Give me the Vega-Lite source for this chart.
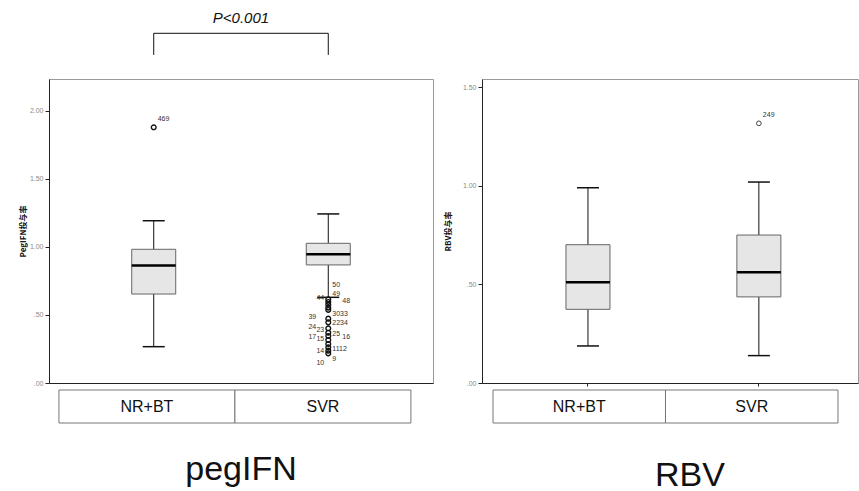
{
  "$schema": "https://vega.github.io/schema/vega-lite/v6.json",
  "padding": {"left": 18, "top": 10, "right": 0, "bottom": 0},
  "background": "white",
  "config": {
    "font": "Liberation Sans",
    "view": {"stroke": "#9a9a9a", "strokeWidth": 1},
    "axis": {"grid": false, "domainColor": "#222", "tickColor": "#222"}
  },
  "datasets": {
    "groups": [{"group": "NR+BT"}, {"group": "SVR"}],
    "peg_box": [
      {"group": "NR+BT", "lower": 0.267, "q1": 0.654, "median": 0.863, "q3": 0.983, "upper": 1.193},
      {"group": "SVR", "lower": 0.630, "q1": 0.868, "median": 0.946, "q3": 1.027, "upper": 1.243}
    ],
    "peg_out": [
      {"group": "NR+BT", "value": 1.88},
      {"group": "SVR", "value": 0.615},
      {"group": "SVR", "value": 0.596},
      {"group": "SVR", "value": 0.576},
      {"group": "SVR", "value": 0.554},
      {"group": "SVR", "value": 0.537},
      {"group": "SVR", "value": 0.473},
      {"group": "SVR", "value": 0.446},
      {"group": "SVR", "value": 0.402},
      {"group": "SVR", "value": 0.370},
      {"group": "SVR", "value": 0.346},
      {"group": "SVR", "value": 0.316},
      {"group": "SVR", "value": 0.287},
      {"group": "SVR", "value": 0.262},
      {"group": "SVR", "value": 0.238},
      {"group": "SVR", "value": 0.218}
    ],
    "peg_lab": [
      {"group": "NR+BT", "id": "469", "value": 1.94, "lane": "R1"},
      {"group": "SVR", "id": "50", "value": 0.721, "lane": "R1"},
      {"group": "SVR", "id": "49", "value": 0.657, "lane": "R1"},
      {"group": "SVR", "id": "48", "value": 0.603, "lane": "R2"},
      {"group": "SVR", "id": "44", "value": 0.627, "lane": "L1"},
      {"group": "SVR", "id": "39", "value": 0.485, "lane": "L2"},
      {"group": "SVR", "id": "3033", "value": 0.507, "lane": "R1"},
      {"group": "SVR", "id": "2234", "value": 0.441, "lane": "R1"},
      {"group": "SVR", "id": "24", "value": 0.412, "lane": "L2"},
      {"group": "SVR", "id": "23", "value": 0.390, "lane": "L1"},
      {"group": "SVR", "id": "25", "value": 0.360, "lane": "R1"},
      {"group": "SVR", "id": "16", "value": 0.340, "lane": "R2"},
      {"group": "SVR", "id": "17", "value": 0.340, "lane": "L2"},
      {"group": "SVR", "id": "15", "value": 0.324, "lane": "L1"},
      {"group": "SVR", "id": "14", "value": 0.238, "lane": "L1"},
      {"group": "SVR", "id": "1112", "value": 0.250, "lane": "R1"},
      {"group": "SVR", "id": "10", "value": 0.149, "lane": "L1"},
      {"group": "SVR", "id": "9", "value": 0.176, "lane": "R1"}
    ],
    "bracket": [
      {"from": "NR+BT", "to": "SVR", "top": 2.571, "bottom": 2.412, "textpos": 2.684, "label": "P<0.001"}
    ],
    "rbv_box": [
      {"group": "NR+BT", "lower": 0.188, "q1": 0.374, "median": 0.511, "q3": 0.702, "upper": 0.991},
      {"group": "SVR", "lower": 0.139, "q1": 0.437, "median": 0.562, "q3": 0.751, "upper": 1.020}
    ],
    "rbv_out": [
      {"group": "SVR", "value": 1.318}
    ],
    "rbv_lab": [
      {"group": "SVR", "id": "249", "value": 1.36, "lane": "R1"}
    ]
  },
  "columns": 2,
  "spacing": {"row": 2, "column": 9},
  "concat": [
    {
      "width": 384,
      "height": 304,
      "layer": [
        {
          "data": {"name": "peg_box"},
          "mark": {"type": "rule", "color": "#111", "strokeWidth": 1},
          "encoding": {
            "x": {"field": "group", "type": "nominal", "scale": {"domain": ["NR+BT", "SVR"], "paddingInner": 0, "paddingOuter": 0.1},
                  "axis": {"labels": false, "ticks": false, "title": null, "domainColor": "#222"}},
            "y": {"field": "lower", "type": "quantitative", "scale": {"domain": [0, 2.235], "nice": false, "zero": true},
                  "axis": {"values": [0, 0.5, 1, 1.5, 2],
                           "labelExpr": "datum.value < 1 ? slice(format(datum.value, '.2f'), 1) : format(datum.value, '.2f')",
                           "labelFontSize": 7, "labelColor": "#8a8a8a", "tickSize": 4, "labelPadding": 2,
                           "title": "PegIFN投与率", "titleFont": "Noto Sans CJK JP", "titleFontSize": 8, "titleFontWeight": "bold",
                           "titleColor": "#111", "titlePadding": 2}},
            "y2": {"field": "upper"}
          }
        },
        {
          "data": {"name": "peg_box"},
          "mark": {"type": "bar", "size": 44, "fill": "#e6e6e6", "stroke": "#666", "strokeWidth": 1},
          "encoding": {
            "x": {"field": "group", "type": "nominal"},
            "y": {"field": "q1", "type": "quantitative"},
            "y2": {"field": "q3"}
          }
        },
        {
          "data": {"name": "peg_box"},
          "mark": {"type": "tick", "size": 44, "thickness": 2.5, "color": "#000", "opacity": 1},
          "encoding": {"x": {"field": "group", "type": "nominal"}, "y": {"field": "median", "type": "quantitative"}}
        },
        {
          "data": {"name": "peg_box"},
          "mark": {"type": "tick", "size": 22, "thickness": 1.5, "color": "#111", "opacity": 1},
          "encoding": {"x": {"field": "group", "type": "nominal"}, "y": {"field": "lower", "type": "quantitative"}}
        },
        {
          "data": {"name": "peg_box"},
          "mark": {"type": "tick", "size": 22, "thickness": 1.5, "color": "#111", "opacity": 1},
          "encoding": {"x": {"field": "group", "type": "nominal"}, "y": {"field": "upper", "type": "quantitative"}}
        },
        {
          "data": {"name": "peg_out"},
          "mark": {"type": "point", "shape": "circle", "filled": false, "size": 22, "stroke": "#111", "strokeWidth": 1.4, "opacity": 1},
          "encoding": {"x": {"field": "group", "type": "nominal"}, "y": {"field": "value", "type": "quantitative"}}
        },
        {
          "data": {"name": "peg_lab"},
          "transform": [{"filter": "datum.lane === 'R1'"}],
          "mark": {"type": "text", "fontSize": 7, "fill": "#333", "align": "left", "baseline": "middle", "dx": 4},
          "encoding": {"x": {"field": "group", "type": "nominal"}, "y": {"field": "value", "type": "quantitative"}, "text": {"field": "id"}}
        },
        {
          "data": {"name": "peg_lab"},
          "transform": [{"filter": "datum.lane === 'R2'"}],
          "mark": {"type": "text", "fontSize": 7, "fill": "#333", "align": "left", "baseline": "middle", "dx": 14},
          "encoding": {"x": {"field": "group", "type": "nominal"}, "y": {"field": "value", "type": "quantitative"}, "text": {"field": "id"}}
        },
        {
          "data": {"name": "peg_lab"},
          "transform": [{"filter": "datum.lane === 'L1'"}],
          "mark": {"type": "text", "fontSize": 7, "fill": "#333", "align": "right", "baseline": "middle", "dx": -4},
          "encoding": {"x": {"field": "group", "type": "nominal"}, "y": {"field": "value", "type": "quantitative"}, "text": {"field": "id"}}
        },
        {
          "data": {"name": "peg_lab"},
          "transform": [{"filter": "datum.lane === 'L2'"}],
          "mark": {"type": "text", "fontSize": 7, "fill": "#333", "align": "right", "baseline": "middle", "dx": -12},
          "encoding": {"x": {"field": "group", "type": "nominal"}, "y": {"field": "value", "type": "quantitative"}, "text": {"field": "id"}}
        },
        {
          "data": {"name": "bracket"},
          "mark": {"type": "rule", "color": "#111", "strokeWidth": 1},
          "encoding": {"x": {"field": "from", "type": "nominal"}, "x2": {"field": "to"}, "y": {"field": "top", "type": "quantitative"}}
        },
        {
          "data": {"name": "bracket"},
          "mark": {"type": "rule", "color": "#111", "strokeWidth": 1},
          "encoding": {"x": {"field": "from", "type": "nominal"}, "y": {"field": "bottom", "type": "quantitative"}, "y2": {"field": "top"}}
        },
        {
          "data": {"name": "bracket"},
          "mark": {"type": "rule", "color": "#111", "strokeWidth": 1},
          "encoding": {"x": {"field": "to", "type": "nominal"}, "y": {"field": "bottom", "type": "quantitative"}, "y2": {"field": "top"}}
        },
        {
          "data": {"name": "bracket"},
          "mark": {"type": "text", "fontSize": 15, "fontStyle": "italic", "fill": "#111", "baseline": "middle", "align": "center"},
          "encoding": {"x": {"field": "from", "type": "nominal", "bandPosition": 1}, "y": {"field": "textpos", "type": "quantitative"}, "text": {"field": "label"}}
        }
      ]
    },
    {
      "width": 376,
      "height": 304,
      "layer": [
        {
          "data": {"name": "rbv_box"},
          "mark": {"type": "rule", "color": "#111", "strokeWidth": 1},
          "encoding": {
            "x": {"field": "group", "type": "nominal", "scale": {"domain": ["NR+BT", "SVR"], "paddingInner": 0, "paddingOuter": 0.1, "align": 0.6},
                  "axis": {"labels": false, "ticks": true, "tickSize": 3, "title": null, "domainColor": "#222"}},
            "y": {"field": "lower", "type": "quantitative", "scale": {"domain": [0, 1.543], "nice": false, "zero": true},
                  "axis": {"values": [0, 0.5, 1, 1.5],
                           "labelExpr": "datum.value < 1 ? slice(format(datum.value, '.2f'), 1) : format(datum.value, '.2f')",
                           "labelFontSize": 7, "labelColor": "#8a8a8a", "tickSize": 4, "labelPadding": 2,
                           "title": "RBV投与率", "titleFont": "Noto Sans CJK JP", "titleFontSize": 8, "titleFontWeight": "bold",
                           "titleColor": "#111", "titlePadding": 10}},
            "y2": {"field": "upper"}
          }
        },
        {
          "data": {"name": "rbv_box"},
          "mark": {"type": "bar", "size": 44, "fill": "#e6e6e6", "stroke": "#666", "strokeWidth": 1},
          "encoding": {
            "x": {"field": "group", "type": "nominal"},
            "y": {"field": "q1", "type": "quantitative"},
            "y2": {"field": "q3"}
          }
        },
        {
          "data": {"name": "rbv_box"},
          "mark": {"type": "tick", "size": 44, "thickness": 2.5, "color": "#000", "opacity": 1},
          "encoding": {"x": {"field": "group", "type": "nominal"}, "y": {"field": "median", "type": "quantitative"}}
        },
        {
          "data": {"name": "rbv_box"},
          "mark": {"type": "tick", "size": 22, "thickness": 1.5, "color": "#111", "opacity": 1},
          "encoding": {"x": {"field": "group", "type": "nominal"}, "y": {"field": "lower", "type": "quantitative"}}
        },
        {
          "data": {"name": "rbv_box"},
          "mark": {"type": "tick", "size": 22, "thickness": 1.5, "color": "#111", "opacity": 1},
          "encoding": {"x": {"field": "group", "type": "nominal"}, "y": {"field": "upper", "type": "quantitative"}}
        },
        {
          "data": {"name": "rbv_out"},
          "mark": {"type": "point", "shape": "circle", "filled": false, "size": 22, "stroke": "#444", "strokeWidth": 1, "opacity": 1},
          "encoding": {"x": {"field": "group", "type": "nominal"}, "y": {"field": "value", "type": "quantitative"}}
        },
        {
          "data": {"name": "rbv_lab"},
          "mark": {"type": "text", "fontSize": 7, "fill": "#333", "align": "left", "baseline": "middle", "dx": 4},
          "encoding": {"x": {"field": "group", "type": "nominal"}, "y": {"field": "value", "type": "quantitative"}, "text": {"field": "id"}}
        }
      ]
    },
    {
      "width": 384,
      "height": 33,
      "view": {"stroke": null},
      "data": {"name": "groups"},
      "title": {"text": "pegIFN", "orient": "bottom", "anchor": "middle", "fontSize": 34, "font": "Liberation Sans", "fontWeight": "normal", "color": "#111", "offset": 29},
      "layer": [
        {
          "mark": {"type": "bar", "fill": "white", "stroke": "#777", "strokeWidth": 1},
          "encoding": {"x": {"field": "group", "type": "nominal", "scale": {"domain": ["NR+BT", "SVR"], "paddingInner": 0, "paddingOuter": 0.091, "align": 0.31}, "axis": null}}
        },
        {
          "mark": {"type": "text", "fontSize": 16, "fill": "#111"},
          "encoding": {"x": {"field": "group", "type": "nominal", "axis": null}, "text": {"field": "group"}}
        }
      ]
    },
    {
      "width": 376,
      "height": 33,
      "view": {"stroke": null},
      "data": {"name": "groups"},
      "title": {"text": "RBV", "orient": "bottom", "anchor": "middle", "fontSize": 34, "font": "Liberation Sans", "fontWeight": "normal", "color": "#111", "offset": 35, "dx": 20},
      "layer": [
        {
          "mark": {"type": "bar", "fill": "white", "stroke": "#777", "strokeWidth": 1},
          "encoding": {"x": {"field": "group", "type": "nominal", "scale": {"domain": ["NR+BT", "SVR"], "paddingInner": 0, "paddingOuter": 0.09, "align": 0.355}, "axis": null}}
        },
        {
          "mark": {"type": "text", "fontSize": 16, "fill": "#111"},
          "encoding": {"x": {"field": "group", "type": "nominal", "axis": null}, "text": {"field": "group"}}
        }
      ]
    }
  ]
}
